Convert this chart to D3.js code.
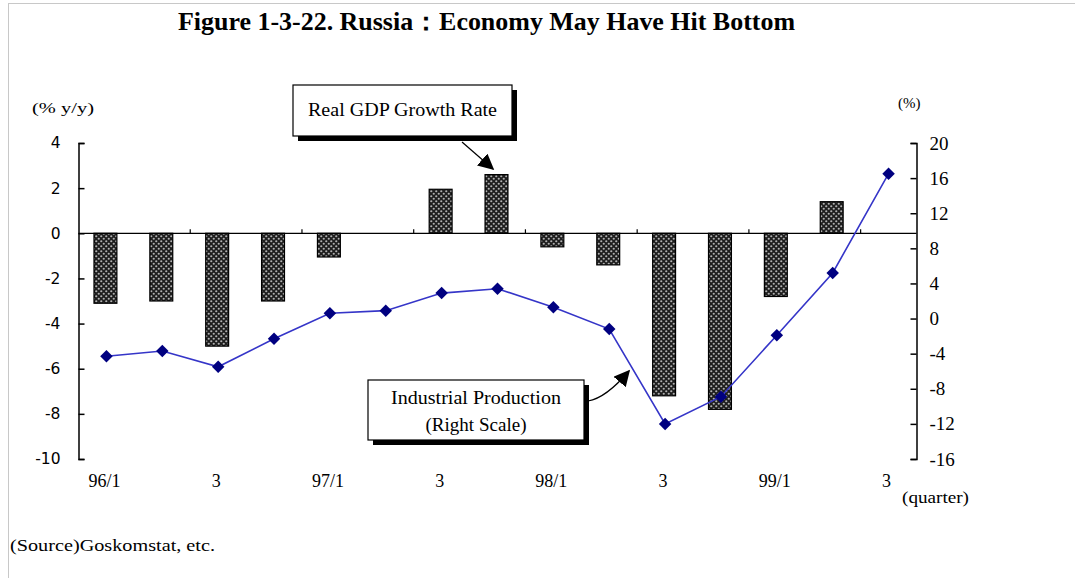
<!DOCTYPE html>
<html>
<head>
<meta charset="utf-8">
<script src="https://cdn.jsdelivr.net/npm/d3@7"></script>
<style>
  html, body { margin: 0; padding: 0; background: #fff; }
  svg { display: block; }
  .serif { font-family: "Liberation Serif", "Times New Roman", serif; }
  .sans { font-family: "DejaVu Sans", Verdana, sans-serif; }
</style>
</head>
<body>
<svg id="chart" width="1075" height="578"></svg>
<script>
// Quarterly periods, 1996 Q1 to 1999 Q3
const quarters = ["96Q1","96Q2","96Q3","96Q4","97Q1","97Q2","97Q3","97Q4",
                  "98Q1","98Q2","98Q3","98Q4","99Q1","99Q2","99Q3"];
const quarterLabels = ["96/1","","3","","97/1","","3","","98/1","","3","","99/1","","3"];
// Real GDP growth, % y/y (left scale)
const gdpGrowth = [-3.1, -3.0, -5.0, -3.0, -1.05, 0, 1.95, 2.6, -0.6, -1.4, -7.2, -7.8, -2.8, 1.4, null];
// Industrial production, % (right scale)
const industrialProd = [-4.3, -3.7, -5.5, -2.3, 0.6, 0.9, 2.9, 3.4, 1.3, -1.2, -12.0, -8.9, -1.9, 5.2, 16.5];
const leftTicks = [4, 2, 0, -2, -4, -6, -8, -10];
const rightTicks = [20, 16, 12, 8, 4, 0, -4, -8, -12, -16];

const svg = d3.select("#chart");
const plain = d => String(d);

// frame
svg.append("rect").attr("x", 8.5).attr("y", 3.5).attr("width", 1080).attr("height", 600)
  .attr("fill", "none").attr("stroke", "#c8c8c8").attr("stroke-width", 1);

const x = d3.scaleBand().domain(quarters).range([78.5, 916.5]).padding(0);
const yL = d3.scaleLinear().domain([-10, 4]).range([459, 143]);
const yR = d3.scaleLinear().domain([-16, 20]).range([459, 143]);

// crosshatch fill for the GDP bars
const defs = svg.append("defs");
const pat = defs.append("pattern").attr("id", "hatch").attr("patternUnits", "userSpaceOnUse")
  .attr("width", 5).attr("height", 5);
pat.append("rect").attr("width", 5).attr("height", 5).attr("fill", "#1e1e1e");
pat.append("circle").attr("cx", 1.25).attr("cy", 1.25).attr("r", 1.1).attr("fill", "#b0b0b0");
pat.append("circle").attr("cx", 3.75).attr("cy", 3.75).attr("r", 1.1).attr("fill", "#b0b0b0");

defs.append("marker").attr("id", "head").attr("viewBox", "0 0 10 10")
  .attr("refX", 9).attr("refY", 5).attr("markerWidth", 16).attr("markerHeight", 16)
  .attr("markerUnits", "userSpaceOnUse").attr("orient", "auto")
  .append("path").attr("d", "M0,0 L10,5 L0,10 Z").attr("fill", "#000");

// bars
const bw = x.bandwidth() * 0.41;
svg.append("g").selectAll("rect")
  .data(quarters.map((q, i) => ({ q, v: gdpGrowth[i] })).filter(d => d.v !== null && d.v !== 0))
  .join("rect")
  .attr("x", d => x(d.q) + (x.bandwidth() - bw) / 2 - 1)
  .attr("width", bw)
  .attr("y", d => yL(Math.max(0, d.v)))
  .attr("height", d => Math.abs(yL(d.v) - yL(0)))
  .attr("fill", "url(#hatch)")
  .attr("stroke", "#000").attr("stroke-width", 1.2);

// zero line with period separators
svg.append("line").attr("x1", x.range()[0]).attr("x2", x.range()[1])
  .attr("y1", yL(0)).attr("y2", yL(0)).attr("stroke", "#000").attr("stroke-width", 1.3);
svg.append("g").selectAll("line")
  .data(quarters.filter((q, i) => i > 0 && i % 2 === 0))
  .join("line")
  .attr("x1", d => x(d)).attr("x2", d => x(d))
  .attr("y1", yL(0)).attr("y2", yL(0) - 4)
  .attr("stroke", "#000").attr("stroke-width", 1.2);

// left axis
const axL = svg.append("g").attr("transform", `translate(${x.range()[0]},0)`)
  .call(d3.axisLeft(yL).tickValues(leftTicks).tickFormat(plain)
    .tickSize(-6).tickSizeOuter(-6).tickPadding(18));
axL.selectAll("text").attr("class", "sans").attr("font-size", 15.5).attr("fill", "#000");
axL.selectAll("path, line").attr("stroke", "#000").attr("stroke-width", 1.5);

// right axis
const axR = svg.append("g").attr("transform", `translate(${x.range()[1]},0)`)
  .call(d3.axisRight(yR).tickValues(rightTicks).tickFormat(plain)
    .tickSize(-6).tickSizeOuter(-6).tickPadding(13));
axR.selectAll("text").attr("class", "serif").attr("font-size", 19).attr("fill", "#000");
axR.selectAll("path, line").attr("stroke", "#000").attr("stroke-width", 1.5);

// quarter labels
const axB = svg.append("g").attr("transform", "translate(0,474)")
  .call(d3.axisBottom(x).tickSize(0).tickPadding(0).tickFormat((d, i) => quarterLabels[i]));
axB.select(".domain").remove();
axB.selectAll("text").attr("class", "serif").attr("font-size", 18).attr("fill", "#000")
  .attr("dx", -2);

// industrial production line
const pts = quarters.map((q, i) => ({ q, v: industrialProd[i] }));
svg.append("path").datum(pts)
  .attr("fill", "none").attr("stroke", "#3535c8").attr("stroke-width", 1.6)
  .attr("d", d3.line().x(d => x(d.q) + x.bandwidth() / 2).y(d => yR(d.v)));
svg.append("g").selectAll("path").data(pts).join("path")
  .attr("transform", d => `translate(${x(d.q) + x.bandwidth() / 2},${yR(d.v)}) rotate(45)`)
  .attr("d", d3.symbol(d3.symbolSquare, 78)())
  .attr("fill", "#000080");

// title and unit labels
svg.append("text").attr("class", "serif").attr("x", 178).attr("y", 30)
  .attr("font-size", 25).attr("font-weight", "bold").attr("textLength", 617)
  .attr("lengthAdjust", "spacingAndGlyphs")
  .text("Figure 1-3-22.  Russia：Economy May Have Hit Bottom");
svg.append("text").attr("class", "serif").attr("x", 32).attr("y", 113)
  .attr("font-size", 15).attr("textLength", 62).attr("lengthAdjust", "spacingAndGlyphs")
  .text("(% y/y)");
svg.append("text").attr("class", "serif").attr("x", 898).attr("y", 108)
  .attr("font-size", 15).text("(%)");
svg.append("text").attr("class", "serif").attr("x", 902).attr("y", 503)
  .attr("font-size", 16).attr("textLength", 67).attr("lengthAdjust", "spacingAndGlyphs")
  .text("(quarter)");
svg.append("text").attr("class", "serif").attr("x", 10).attr("y", 551)
  .attr("font-size", 17).attr("textLength", 205).attr("lengthAdjust", "spacingAndGlyphs")
  .text("(Source)Goskomstat, etc.");

// callout boxes
function callout(x0, y0, w, h, lines) {
  const g = svg.append("g");
  g.append("rect").attr("x", x0 + 5).attr("y", y0 + 5).attr("width", w).attr("height", h).attr("fill", "#000");
  g.append("rect").attr("x", x0).attr("y", y0).attr("width", w).attr("height", h)
    .attr("fill", "#fff").attr("stroke", "#000").attr("stroke-width", 1.2);
  lines.forEach(l => {
    g.append("text").attr("class", "serif").attr("x", x0 + w / 2).attr("y", l.y)
      .attr("text-anchor", "middle").attr("font-size", 18)
      .attr("textLength", l.w).attr("lengthAdjust", "spacingAndGlyphs").text(l.t);
  });
}
callout(293, 85, 219, 51, [{ t: "Real GDP Growth Rate", y: 116, w: 189 }]);
callout(368, 380, 216, 60, [
  { t: "Industrial Production", y: 404, w: 170 },
  { t: "(Right Scale)", y: 431, w: 101 }
]);

svg.append("path").attr("d", "M462,142 L493,169")
  .attr("stroke", "#000").attr("stroke-width", 1.2).attr("fill", "none")
  .attr("marker-end", "url(#head)");
svg.append("path").attr("d", "M588,401 Q606,398 629,371")
  .attr("stroke", "#000").attr("stroke-width", 1.2).attr("fill", "none")
  .attr("marker-end", "url(#head)");
</script>
</body>
</html>
